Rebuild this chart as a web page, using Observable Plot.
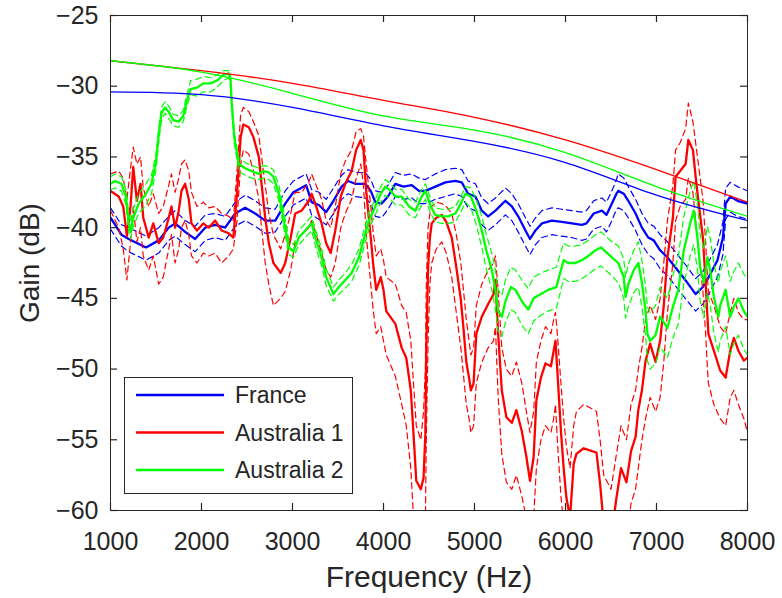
<!DOCTYPE html>
<html>
<head>
<meta charset="utf-8">
<script src="https://cdn.jsdelivr.net/npm/d3@7"></script>
<script src="https://cdn.jsdelivr.net/npm/@observablehq/plot@0.6"></script>
<style>
  html, body { margin: 0; padding: 0; background: #fff; }
  #chart { width: 782px; height: 598px; }
</style>
</head>
<body>
<div id="chart"></div>
<script>
// ---------- tick values ----------
const xTicks = [1000, 2000, 3000, 4000, 5000, 6000, 7000, 8000];
const yTicks = [-60, -55, -50, -45, -40, -35, -30, -25];
const seriesNames = ["France", "Australia 1", "Australia 2"];
const seriesColors = ["#0000ff", "#ff0000", "#00ff00"];

// ---------- smooth model curves (thin) ----------
const smoothHz = [1000, 2000, 3000, 4000, 5000, 6000, 7000, 8000];
const frSmooth = [-30.4, -30.6, -31.5, -32.8, -33.9, -35.4, -37.7, -39.5];
const a1Smooth = [-28.2, -28.9, -29.8, -31.0, -32.2, -33.8, -35.9, -38.2];
const a2Smooth = [-28.2, -29.0, -30.5, -32.1, -33.1, -34.7, -37.1, -39.2];

// ---------- France (measured, mean and bounds) ----------
const frHz = [1000,1120,1200,1390,1530,1640,1710,1820,1930,2040,2150,2260,2370,2480,2590,2700,2810,2920,3010,3150,3210,3290,3370,3450,3540,3610,3690,3800,3860,3910,3980,4050,4130,4220,4310,4390,4460,4570,4680,4790,4860,4930,5010,5080,5150,5230,5340,5410,5480,5560,5610,5670,5740,5850,5960,6070,6180,6230,6310,6400,6450,6510,6560,6580,6640,6690,6770,6840,6910,6970,7040,7120,7230,7340,7430,7510,7590,7670,7730,7760,7810,7890,8000];
const frMain = [-39.3,-40.5,-40.8,-41.4,-40.9,-40.0,-39.7,-40.3,-40.8,-40.0,-39.8,-40.0,-39.0,-38.6,-39.0,-39.5,-39.5,-38.3,-37.5,-37.0,-38.2,-38.4,-38.9,-38.1,-37.1,-36.7,-36.9,-36.9,-37.4,-38.2,-38.3,-37.8,-36.9,-37.1,-37.0,-37.4,-37.4,-37.1,-36.8,-36.7,-36.8,-37.6,-37.8,-38.8,-39.2,-38.8,-38.1,-38.5,-39.2,-40.2,-40.8,-40.2,-39.7,-39.5,-39.6,-39.7,-39.8,-39.7,-39.0,-38.8,-39.1,-38.3,-37.6,-37.4,-37.6,-38.1,-39.0,-40.0,-40.7,-40.9,-41.6,-42.1,-43.0,-43.9,-44.7,-44.2,-43.3,-42.3,-40.7,-38.3,-37.8,-38.1,-38.3];
const frHi = [-38.6,-39.8,-40.0,-40.6,-40.0,-39.2,-38.8,-39.5,-39.9,-39.1,-39.0,-39.2,-38.2,-37.7,-38.1,-38.6,-38.7,-37.4,-36.7,-36.2,-37.3,-37.5,-38.0,-37.2,-36.3,-35.9,-36.1,-36.1,-36.6,-37.4,-37.5,-37.0,-36.1,-36.3,-36.2,-36.5,-36.6,-36.2,-35.9,-35.8,-35.9,-36.7,-36.9,-37.9,-38.3,-37.9,-37.2,-37.6,-38.3,-39.3,-39.9,-39.3,-38.8,-38.6,-38.7,-38.8,-38.9,-38.8,-38.1,-37.9,-38.2,-37.4,-36.6,-36.2,-36.5,-37.1,-38.0,-39.0,-39.7,-39.9,-40.5,-41.0,-41.9,-42.8,-43.6,-43.1,-42.2,-41.2,-39.6,-37.2,-36.8,-37.1,-37.4];
const frLo = [-40.1,-41.3,-41.7,-42.3,-41.8,-40.9,-40.6,-41.2,-41.7,-40.9,-40.7,-40.9,-39.9,-39.5,-39.9,-40.4,-40.3,-39.2,-38.4,-37.9,-39.1,-39.4,-39.8,-39.0,-38.0,-37.6,-37.8,-37.9,-38.3,-39.2,-39.3,-38.7,-37.8,-38.0,-37.9,-38.3,-38.3,-38.0,-37.8,-37.6,-37.8,-38.6,-38.8,-39.8,-40.2,-39.8,-39.1,-39.5,-40.3,-41.3,-41.9,-41.2,-40.7,-40.5,-40.6,-40.7,-40.9,-40.8,-40.1,-39.9,-40.3,-39.5,-38.7,-38.6,-38.8,-39.3,-40.2,-41.2,-41.9,-42.2,-42.9,-43.4,-44.3,-45.2,-45.9,-45.4,-44.5,-43.5,-41.9,-39.4,-38.9,-39.2,-39.4];

// ---------- Australia 1 ----------
const a1Hz = [1000,1090,1140,1180,1220,1250,1290,1330,1360,1420,1470,1530,1580,1640,1670,1710,1750,1780,1820,1860,1890,1950,2020,2080,2150,2220,2300,2350,2390,2430,2460,2520,2570,2630,2660,2700,2740,2790,2870,2920,2980,3030,3100,3180,3210,3260,3320,3370,3420,3470,3530,3580,3650,3700,3750,3780,3810,3860,3890,3920,3970,4000,4030,4130,4200,4250,4300,4330,4360,4410,4440,4460,4470,4490,4510,4530,4580,4640,4690,4750,4800,4850,4880,4910,4940,4960,4990,5020,5080,5150,5210,5230,5260,5300,5350,5410,5460,5520,5570,5610,5650,5680,5730,5780,5840,5870,5890,5910,5950,5980,6010,6050,6090,6120,6200,6290,6340,6380,6420,6500,6560,6610,6670,6720,6770,6800,6840,6880,6930,6990,7040,7080,7120,7180,7210,7260,7320,7350,7400,7430,7460,7510,7540,7560,7570,7630,7700,7760,7810,7850,7900,7960,8000];
const a1Main = [-37.4,-37.8,-38.5,-40.6,-38.5,-35.7,-38.1,-36.9,-39.3,-40.7,-39.7,-41.1,-40.7,-39.3,-38.5,-40.0,-38.8,-37.4,-36.9,-38.0,-39.7,-40.2,-39.7,-40.0,-39.5,-40.2,-40.4,-40.7,-37.6,-33.6,-32.7,-32.9,-33.6,-35.0,-36.9,-39.3,-41.1,-42.5,-43.2,-42.5,-40.7,-39.0,-38.8,-38.1,-37.6,-38.5,-39.7,-41.1,-41.8,-40.2,-37.8,-36.9,-36.0,-34.5,-33.8,-34.5,-37.4,-40.7,-42.8,-44.4,-43.5,-44.4,-45.9,-46.8,-48.5,-49.2,-51.5,-54.6,-57.9,-58.5,-57.7,-54.6,-48.7,-42.8,-40.7,-39.7,-39.3,-39.1,-39.6,-40.7,-42.8,-45.1,-47.2,-49.5,-50.6,-51.5,-51.0,-47.5,-46.3,-45.4,-44.7,-43.7,-47.5,-51.5,-53.4,-53.8,-52.9,-54.4,-56.2,-57.9,-56.2,-52.2,-50.6,-49.6,-49.8,-48.7,-48.0,-50.1,-54.4,-57.0,-59.1,-60.5,-56.7,-56.0,-55.6,-55.8,-55.9,-58.1,-61.0,-62.0,-59.1,-57.0,-58.0,-55.8,-54.8,-52.9,-51.5,-49.4,-48.2,-49.5,-48.0,-45.5,-42.1,-39.3,-36.4,-36.0,-35.5,-33.8,-34.5,-36.4,-38.1,-40.7,-43.9,-46.3,-47.5,-48.7,-50.1,-50.6,-48.7,-47.8,-48.7,-49.4,-49.2];
const a1Hi = [-36.2,-36.0,-36.5,-38.0,-35.8,-34.3,-35.5,-35.0,-37.2,-38.5,-37.6,-39.0,-38.5,-37.0,-36.2,-37.5,-36.5,-35.5,-35.2,-36.0,-37.5,-38.5,-38.2,-38.6,-38.5,-39.0,-39.2,-39.5,-36.0,-32.0,-31.5,-31.8,-32.5,-33.5,-35.0,-37.0,-39.0,-40.5,-41.5,-40.5,-39.0,-37.5,-37.5,-36.8,-36.2,-37.0,-38.0,-39.5,-40.0,-38.5,-36.2,-35.3,-34.5,-33.2,-33.0,-33.5,-35.5,-38.5,-40.5,-42.0,-41.5,-42.3,-43.5,-44.0,-45.5,-46.0,-48.0,-51.0,-54.0,-55.0,-53.0,-50.0,-44.0,-40.0,-39.0,-38.5,-38.2,-38.3,-38.5,-39.0,-40.5,-42.5,-44.5,-46.5,-48.0,-49.0,-48.5,-45.5,-44.0,-43.0,-42.5,-42.0,-44.5,-48.5,-50.0,-50.5,-49.5,-51.0,-53.0,-54.5,-53.0,-49.5,-48.0,-47.0,-47.5,-46.5,-46.0,-47.5,-51.0,-53.5,-55.5,-57.0,-54.0,-53.0,-52.5,-52.8,-53.0,-55.0,-57.5,-58.5,-56.0,-54.0,-55.0,-52.5,-51.5,-50.0,-48.5,-46.5,-45.5,-46.5,-45.0,-42.5,-39.5,-37.0,-34.5,-34.0,-33.0,-31.2,-32.5,-34.0,-35.5,-38.0,-41.0,-43.5,-44.5,-45.5,-47.0,-47.5,-46.0,-45.0,-46.0,-46.5,-46.5];
const a1Lo = [-38.8,-40.0,-41.5,-43.7,-41.0,-38.5,-41.0,-40.0,-42.0,-43.0,-42.0,-44.0,-43.5,-41.5,-40.5,-42.5,-41.5,-40.0,-39.5,-40.5,-42.0,-42.5,-41.8,-42.0,-41.8,-42.5,-42.0,-41.5,-39.5,-35.5,-34.5,-34.8,-36.0,-38.0,-40.0,-42.5,-44.0,-45.5,-45.0,-44.5,-43.0,-41.0,-40.5,-40.0,-39.5,-40.5,-41.8,-43.0,-43.5,-42.5,-40.0,-39.0,-38.0,-36.5,-35.5,-37.0,-40.5,-44.0,-46.0,-47.5,-47.0,-48.0,-49.0,-50.5,-52.5,-54.0,-57.0,-60.5,-62.0,-62.0,-62.0,-61.0,-55.0,-48.0,-44.0,-42.5,-41.5,-41.0,-41.8,-43.5,-46.0,-48.5,-50.5,-52.5,-53.5,-54.5,-54.0,-51.0,-49.5,-48.5,-48.0,-47.0,-52.0,-56.0,-58.0,-58.5,-57.5,-59.0,-60.5,-61.0,-60.5,-57.0,-55.0,-54.0,-54.5,-53.5,-52.5,-55.0,-59.0,-61.0,-62.0,-62.0,-61.0,-60.5,-60.0,-60.5,-61.0,-62.0,-63.0,-63.0,-62.0,-61.0,-62.0,-59.5,-58.5,-57.0,-55.0,-53.5,-52.0,-53.0,-52.0,-49.5,-46.0,-42.5,-39.5,-38.5,-38.0,-36.5,-37.5,-39.5,-41.5,-44.5,-47.5,-50.0,-51.0,-52.5,-53.5,-54.0,-52.0,-51.5,-52.5,-53.5,-54.5];

// ---------- Australia 2 ----------
const a2Hz = [1000,1050,1120,1170,1200,1220,1250,1310,1390,1450,1500,1530,1560,1600,1640,1690,1750,1800,1840,1880,1950,2020,2100,2170,2240,2300,2320,2330,2360,2410,2480,2550,2630,2680,2740,2790,2850,2900,2960,3010,3070,3140,3210,3260,3320,3370,3450,3510,3580,3650,3730,3780,3840,3910,3970,4020,4080,4130,4200,4280,4350,4420,4460,4520,4570,4640,4710,4790,4850,4900,4960,5020,5080,5130,5190,5230,5260,5300,5340,5400,5450,5520,5590,5650,5730,5810,5900,5950,5980,6030,6110,6180,6250,6330,6390,6440,6510,6580,6640,6660,6690,6750,6800,6840,6880,6900,6930,6990,7040,7120,7180,7240,7300,7370,7410,7450,7480,7520,7560,7590,7630,7680,7700,7760,7810,7850,7900,7960,8000];
const a2Main = [-36.9,-36.7,-36.9,-37.8,-39.7,-40.3,-39.3,-38.3,-37.6,-36.9,-35.3,-33.4,-31.9,-31.5,-31.8,-32.4,-32.5,-32.1,-31.0,-30.2,-30.1,-29.8,-29.8,-29.6,-29.2,-29.1,-29.6,-31.0,-33.6,-35.5,-35.8,-36.0,-36.2,-36.0,-36.1,-36.4,-37.6,-39.3,-41.4,-41.7,-40.7,-40.2,-39.7,-40.9,-42.1,-43.5,-44.7,-44.2,-43.7,-43.2,-42.1,-40.9,-39.5,-38.5,-37.6,-37.1,-37.4,-37.8,-37.8,-38.5,-38.8,-37.8,-37.4,-38.5,-39.1,-39.2,-39.2,-39.0,-38.3,-37.6,-37.8,-38.8,-40.2,-41.6,-43.0,-44.4,-45.9,-46.3,-45.2,-44.2,-44.4,-45.2,-45.8,-45.0,-44.7,-44.4,-44.2,-43.0,-42.3,-42.5,-42.5,-42.3,-42.0,-41.6,-41.4,-41.7,-42.1,-42.5,-43.5,-44.9,-44.0,-43.0,-42.5,-43.9,-45.9,-47.5,-48.0,-47.6,-46.3,-47.1,-45.6,-44.4,-41.6,-39.7,-38.8,-40.7,-42.8,-43.9,-42.1,-43.0,-44.9,-46.3,-45.5,-44.4,-46.3,-45.6,-45.0,-45.9,-46.3];
const a2Hi = [-36.4,-36.2,-36.4,-37.3,-39.0,-39.6,-38.7,-37.6,-36.9,-36.3,-34.8,-33.0,-31.5,-31.1,-31.4,-32.0,-32.1,-31.7,-30.6,-29.6,-29.5,-29.3,-29.4,-29.2,-28.9,-28.9,-29.3,-30.7,-33.3,-35.1,-35.4,-35.6,-35.8,-35.6,-35.7,-35.9,-37.0,-38.7,-40.9,-41.2,-40.2,-39.7,-39.2,-40.3,-41.5,-42.9,-44.2,-43.7,-43.2,-42.6,-41.5,-40.3,-38.9,-38.0,-37.1,-36.6,-36.9,-37.3,-37.3,-38.0,-38.2,-37.3,-36.9,-38.0,-38.6,-38.7,-38.7,-38.5,-37.8,-37.1,-37.2,-38.0,-39.2,-40.5,-41.8,-43.0,-44.4,-44.8,-43.7,-42.8,-43.0,-43.7,-44.3,-43.5,-43.2,-43.0,-42.8,-41.7,-41.1,-41.3,-41.3,-41.2,-40.9,-40.5,-40.3,-40.6,-41.0,-41.3,-42.2,-43.5,-42.6,-41.6,-41.0,-42.3,-44.2,-45.6,-46.0,-45.5,-44.2,-45.0,-43.4,-42.0,-39.2,-37.4,-36.7,-38.4,-40.5,-41.5,-39.9,-40.7,-42.5,-43.9,-43.1,-42.0,-43.8,-43.1,-42.5,-43.3,-43.6];
const a2Lo = [-37.3,-37.2,-37.4,-38.4,-40.3,-40.8,-39.9,-39.0,-38.4,-37.6,-35.9,-33.9,-32.4,-31.9,-32.3,-32.8,-32.9,-32.5,-31.4,-30.6,-30.7,-30.4,-30.4,-30.1,-29.6,-29.4,-29.9,-31.3,-34.0,-36.0,-36.3,-36.5,-36.6,-36.5,-36.6,-36.9,-38.1,-39.9,-41.9,-42.1,-41.2,-40.7,-40.2,-41.5,-42.7,-44.1,-45.2,-44.7,-44.3,-43.8,-42.7,-41.5,-40.1,-39.1,-38.2,-37.7,-38.0,-38.4,-38.4,-39.1,-39.3,-38.4,-38.0,-39.0,-39.6,-39.7,-39.7,-39.6,-38.9,-38.2,-38.6,-39.8,-41.4,-42.9,-44.4,-45.8,-47.3,-47.7,-46.7,-45.8,-46.0,-46.9,-47.5,-46.6,-46.2,-45.9,-45.7,-44.4,-43.6,-43.8,-43.8,-43.6,-43.3,-42.9,-42.7,-43.0,-43.4,-43.9,-45.0,-46.4,-45.6,-44.6,-44.2,-45.6,-47.7,-49.4,-50.0,-49.6,-48.4,-49.2,-47.8,-46.8,-44.0,-42.0,-41.2,-43.0,-45.2,-46.4,-44.6,-45.5,-47.4,-48.8,-48.0,-47.0,-49.0,-48.2,-47.6,-48.6,-49.0];

// ---------- build tables ----------
function rows(hz, vals) { return hz.map((h, i) => ({hz: h, db: vals[i]})); }
const groups = [
  {color: seriesColors[0], hz: frHz, main: frMain, hi: frHi, lo: frLo, smooth: frSmooth},
  {color: seriesColors[1], hz: a1Hz, main: a1Main, hi: a1Hi, lo: a1Lo, smooth: a1Smooth},
  {color: seriesColors[2], hz: a2Hz, main: a2Main, hi: a2Hi, lo: a2Lo, smooth: a2Smooth}
];

const dataMarks = [];
for (const g of groups) {
  dataMarks.push(Plot.line(rows(g.hz, g.hi), {x: "hz", y: "db", stroke: g.color, strokeWidth: 1.2, strokeDasharray: "6,4", clip: true}));
  dataMarks.push(Plot.line(rows(g.hz, g.lo), {x: "hz", y: "db", stroke: g.color, strokeWidth: 1.2, strokeDasharray: "6,4", clip: true}));
  dataMarks.push(Plot.line(rows(g.hz, g.main), {x: "hz", y: "db", stroke: g.color, strokeWidth: 2.3, clip: true}));
}
for (const g of groups) {
  dataMarks.push(Plot.line(rows(smoothHz, g.smooth), {x: "hz", y: "db", stroke: g.color, strokeWidth: 1.3, curve: "natural", clip: true}));
}

const ink = "#262626";
const W = 782, H = 598, mL = 110, mR = 35, mT = 15, mB = 88, tickLen = 7;
const frameW = W - mL - mR, frameH = H - mT - mB;
const chart = Plot.plot({
  width: W,
  height: H,
  marginLeft: mL,
  marginRight: mR,
  marginTop: mT,
  marginBottom: mB,
  x: {domain: [1000, 8000]},
  y: {domain: [-60, -25]},
  style: {fontFamily: "'Liberation Sans', Arial, Helvetica, sans-serif", fontSize: "25px", color: ink, background: "#fff"},
  marks: [
    ...dataMarks,
    Plot.frame({stroke: ink, strokeWidth: 1}),
    // inward ticks on all four sides
    Plot.tickX(xTicks, {x: d => d, stroke: ink, strokeWidth: 1.2, insetTop: frameH - tickLen}),
    Plot.tickX(xTicks, {x: d => d, stroke: ink, strokeWidth: 1.2, insetBottom: frameH - tickLen}),
    Plot.tickY(yTicks, {y: d => d, stroke: ink, strokeWidth: 1.2, insetRight: frameW - tickLen}),
    Plot.tickY(yTicks, {y: d => d, stroke: ink, strokeWidth: 1.2, insetLeft: frameW - tickLen}),
    Plot.axisX({ticks: xTicks, tickSize: 0, tickPadding: 22, tickFormat: d => String(d), label: null, fontSize: 25}),
    Plot.axisY({ticks: yTicks, tickSize: 0, tickPadding: 12, tickFormat: d => (d < 0 ? "\u2212" : "") + Math.abs(d), label: null, fontSize: 25}),
    Plot.text(["Frequency (Hz)"], {frameAnchor: "bottom", dy: 55, text: d => d, fontSize: 30, lineAnchor: "top", textAnchor: "middle", fill: ink}),
    Plot.text(["Gain (dB)"], {frameAnchor: "left", dx: -80, rotate: -90, text: d => d, fontSize: 28, textAnchor: "middle", fill: ink})
  ]
});
document.getElementById("chart").appendChild(chart);

// ---------- legend (inside the axes, lower left) ----------
const svg = d3.select(chart);
const lg = svg.append("g").attr("class", "legend");
lg.append("rect").attr("x", 124.5).attr("y", 377.5).attr("width", 228).attr("height", 116)
  .attr("fill", "#fff").attr("stroke", ink).attr("stroke-width", 1);
seriesNames.forEach((name, i) => {
  const y = 395 + i * 37.5;
  lg.append("line").attr("x1", 136).attr("x2", 224).attr("y1", y).attr("y2", y)
    .attr("stroke", seriesColors[i]).attr("stroke-width", 2.3);
  lg.append("text").attr("x", 235).attr("y", y).attr("dy", "0.35em")
    .attr("text-anchor", "start").attr("fill", ink).attr("font-size", 23).text(name);
});
</script>
</body>
</html>
